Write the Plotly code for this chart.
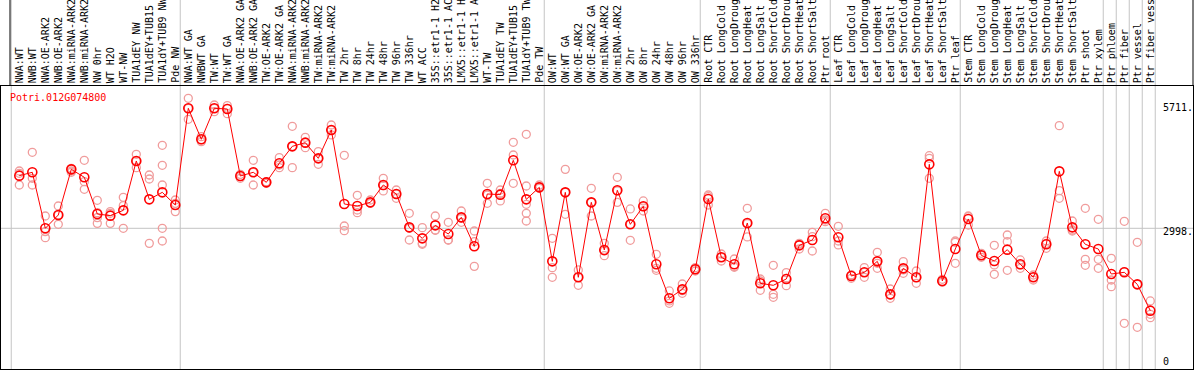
import plotly.graph_objects as go

gene = "Potri.012G074800"

labels = [
    "NWA:WT", "NWB:WT", "NWA:OE-ARK2", "NWB:OE-ARK2", "NWA:miRNA-ARK2", "NWB:miRNA-ARK2",
    "NW 0hr", "WT H2O", "WT-NW", "TUA1dEY NW", "TUA1dEY+TUB15", "TUA1dY+TUB9 NW", "Pde NW",
    "NWA:WT GA", "NWBWT GA", "TW:WT", "TW:WT GA", "NWA:OE-ARK2 GA", "NWB:OE-ARK2 GA",
    "TW:OE-ARK2", "TW:OE-ARK2 GA", "NWA:miRNA-ARK2", "NWB:miRNA-ARK2", "TW:miRNA-ARK2",
    "TW:miRNA-ARK2", "TW 2hr", "TW 8hr", "TW 24hr", "TW 48hr", "TW 96hr", "TW 336hr", "WT ACC",
    "35S::etr1-1 H2", "35S::etr1-1 AC", "LMX5::etr1-1 H", "LMX5::etr1-1 A", "WT-TW",
    "TUA1dEY TW", "TUA1dEY+TUB15", "TUA1dY+TUB9 TW", "Pde TW",
    "OW:WT", "OW:WT GA", "OW:OE-ARK2", "OW:OE-ARK2 GA", "OW:miRNA-ARK2", "OW:miRNA-ARK2",
    "OW 2hr", "OW 8hr", "OW 24hr", "OW 48hr", "OW 96hr", "OW 336hr",
    "Root CTR", "Root LongCold", "Root LongDroug", "Root LongHeat", "Root LongSalt",
    "Root ShortCold", "Root ShortDrou", "Root ShortHeat", "Root ShortSalt", "Ptr root",
    "Leaf CTR", "Leaf LongCold", "Leaf LongDroug", "Leaf LongHeat", "Leaf LongSalt",
    "Leaf ShortCold", "Leaf ShortDrou", "Leaf ShortHeat", "Leaf ShortSalt", "Ptr leaf",
    "Stem CTR", "Stem LongCold", "Stem LongDroug", "Stem LongHeat", "Stem LongSalt",
    "Stem ShortCold", "Stem ShortDrou", "Stem ShortHeat", "Stem ShortSalt", "Ptr shoot",
    "Ptr xylem", "Ptr phloem", "Ptr fiber", "Ptr vessel", "Ptr fiber vess",
]

group_sizes = [13, 28, 12, 10, 10, 11, 1, 1, 1, 1]

means = [
    4188, 4264, 2998, 3299, 4331, 4151, 3322, 3284, 3404, 4520, 3653, 3811, 3525,
    5711, 5010, 5711, 5695, 4181, 4264, 4037, 4467, 4851, 4934, 4580, 5221, 3548, 3502,
    3585, 3977, 3774, 3020, 2771, 3065, 2869, 3246, 2591, 3774, 3759, 4535, 3653, 3924,
    2251, 3811, 1890, 3585, 2508, 3857, 3088, 3495, 2184, 1415, 1618, 2071,
    3661, 2342, 2184, 3118, 1754, 1709, 1852, 2613, 2734, 3224,
    2794, 1920, 2003, 2251, 1505, 2093, 1890, 4444, 1807, 2530,
    3209, 2387, 2259, 2515, 2184, 1890, 2636, 4286, 3020, 2636, 2530,
    1965, 2003, 1731, 1136,
]

replicates = [
    [4294, 4241, 3977], [4716, 4128, 3977], [3276, 2922, 2787], [3502, 3299, 3088],
    [4354, 4294, 4264], [4535, 4053, 3879], [3631, 3239, 3110, 3352], [3375, 3337, 3110],
    [3698, 3510, 2998], [4671, 4520, 4369], [4203, 4113, 2658],
    [4874, 4422, 3977, 2998, 2711], [3638, 3563, 3375],
    [5937, 5711, 5462], [5070, 4995, 4957], [5786, 5711, 5635], [5771, 5711, 5590],
    [4218, 4166, 4128], [4535, 4264, 3977], [4053, 4037, 4015], [4595, 4429, 4369],
    [5304, 4851, 4369], [5055, 4934, 4821], [4731, 4580, 4445], [5334, 5221, 5108],
    [4648, 3050, 2945], [3744, 3412, 3352], [3638, 3563, 3563], [4128, 3962, 3842],
    [3864, 3774, 3676], [3337, 2998, 2734], [3013, 2658, 2636], [3276, 2960, 2952],
    [3133, 2734, 2734], [3389, 3224, 3133], [2937, 2696, 2138], [4015, 3751, 3563],
    [3864, 3789, 3616], [4942, 4655, 4015], [5123, 3954, 3540, 3337, 3163],
    [3977, 3939, 3902],
    [2772, 2108, 1890], [4331, 3811, 3314], [2056, 1890, 1709], [3902, 3585, 3276],
    [2658, 2485, 2380], [4151, 3842, 3585], [3435, 3088, 2726], [3616, 3487, 3389],
    [2410, 2093, 2048], [1581, 1355, 1302], [1739, 1588, 1528], [2108, 2071, 2033],
    [3751, 3713, 3525], [2417, 2342, 2259], [2304, 2131, 2116], [3450, 3103, 2802],
    [1852, 1807, 1596], [2161, 1506, 1438], [1995, 1867, 1701], [2658, 2636, 2530],
    [2907, 2809, 2485], [3337, 3186, 3148],
    [3043, 2711, 2621], [1942, 1942, 1867], [2108, 2003, 1890], [2455, 2206, 2093],
    [1626, 1491, 1415], [2244, 2056, 1980], [2033, 1882, 1754], [4640, 4580, 4128],
    [1845, 1792, 1777], [2711, 2681, 2206],
    [3276, 3261, 3073], [2432, 2387, 2342], [2613, 2169, 1958], [2847, 2696, 2048],
    [2282, 2169, 2093], [1942, 1890, 1829], [2711, 2658, 2545], [5319, 3849, 3676],
    [3163, 2960, 2937], [3450, 2297, 2161], [3201, 2297, 2093],
    [2319, 1829, 1679], [3156, 2018, 850], [2681, 1731, 759], [1355, 1053, 978],
]

ref_value = 2998
tick_values = [5711, 2998, 0]
tick_texts = ["5711.", "2998.", "0"]

# ---------------- layout geometry (pixels) ----------------
W, H = 1194, 370
PL, PR, PT, PB = 1, 1193, 86, 369
X0_PX, STEP_PX = 19.3, 13.0
Y0_PX, PX_PER_UNIT = 360.9, 0.04423

def px_to_x(px):
    return (px - X0_PX) / STEP_PX

def py_to_v(py):
    return (Y0_PX - py) / PX_PER_UNIT

x_range = [px_to_x(PL), px_to_x(PR)]
y_range = [py_to_v(PB), py_to_v(PT)]

MONO = "DejaVu Sans Mono"
RED = "#ff0000"
PINK = "#f09c9c"
GRID = "#c4c4c4"

xs = list(range(len(labels)))

rep_x, rep_y = [], []
for i, vals in enumerate(replicates):
    for v in vals:
        rep_x.append(i)
        rep_y.append(v)

fig = go.Figure()
fig.add_trace(go.Scatter(
    x=rep_x, y=rep_y, mode="markers",
    marker=dict(symbol="circle-open", size=8, color=PINK, line=dict(width=1.3, color=PINK)),
    hoverinfo="skip", showlegend=False, cliponaxis=False,
))
fig.add_trace(go.Scatter(
    x=xs, y=means, mode="lines+markers",
    line=dict(color=RED, width=1),
    marker=dict(symbol="circle-open", size=9, color=RED, line=dict(width=1.6, color=RED)),
    showlegend=False, cliponaxis=False,
))

shapes = []
# group separators
b = -0.62
bounds = [b]
for g in group_sizes:
    b += g
    bounds.append(b)
for bx in bounds:
    shapes.append(dict(type="line", xref="x", yref="paper", x0=bx, x1=bx, y0=(H - PB) / H, y1=1,
                       line=dict(color=GRID, width=1), layer="below"))
# reference line
shapes.append(dict(type="line", xref="paper", yref="y", x0=PL / W, x1=PR / W,
                   y0=ref_value, y1=ref_value, line=dict(color=GRID, width=1), layer="below"))
# header frame
shapes.append(dict(type="line", xref="paper", yref="paper", x0=10 / W, x1=10 / W,
                   y0=(H - PT) / H, y1=1, line=dict(color="black", width=1)))
shapes.append(dict(type="line", xref="paper", yref="paper", x0=PR / W, x1=PR / W,
                   y0=(H - PT) / H, y1=1, line=dict(color="black", width=1)))

annotations = []
for i, lab in enumerate(labels):
    annotations.append(dict(
        x=i, xref="x", y=(H - 84) / H, yref="paper", text=lab, textangle=-90,
        xanchor="center", yanchor="bottom", showarrow=False,
        font=dict(family=MONO, size=10, color="black"), borderpad=0,
    ))
annotations.append(dict(
    x=9 / W, xref="paper", y=(H - 97) / H, yref="paper", text=gene,
    xanchor="left", yanchor="middle", showarrow=False,
    font=dict(family=MONO, size=10, color=RED), borderpad=0,
))
tick_shift = {5711: 1, 2998: -3.5, 0: -1}
for v, t in zip(tick_values, tick_texts):
    annotations.append(dict(
        x=1162 / W, xref="paper", y=v, yref="y", text=t, xanchor="left", yanchor="middle",
        yshift=tick_shift.get(v, 0), showarrow=False,
        font=dict(family=MONO, size=10, color="black"), borderpad=0,
    ))

fig.update_layout(
    width=W, height=H, margin=dict(l=0, r=0, t=0, b=0),
    paper_bgcolor="white", plot_bgcolor="white",
    xaxis=dict(domain=[PL / W, PR / W], range=x_range, showgrid=False, zeroline=False,
               showticklabels=False, ticks="", showline=True, mirror=True,
               linecolor="black", linewidth=1),
    yaxis=dict(domain=[(H - PB) / H, (H - PT) / H], range=y_range, showgrid=False,
               zeroline=False, showticklabels=False, ticks="", showline=True, mirror=True,
               linecolor="black", linewidth=1),
    shapes=shapes, annotations=annotations,
)

fig.write_html(
    "out.html",
    config={"displayModeBar": False},
    post_script="document.body.style.margin='0';document.body.style.padding='0';"
                "document.body.style.overflow='hidden';",
)
